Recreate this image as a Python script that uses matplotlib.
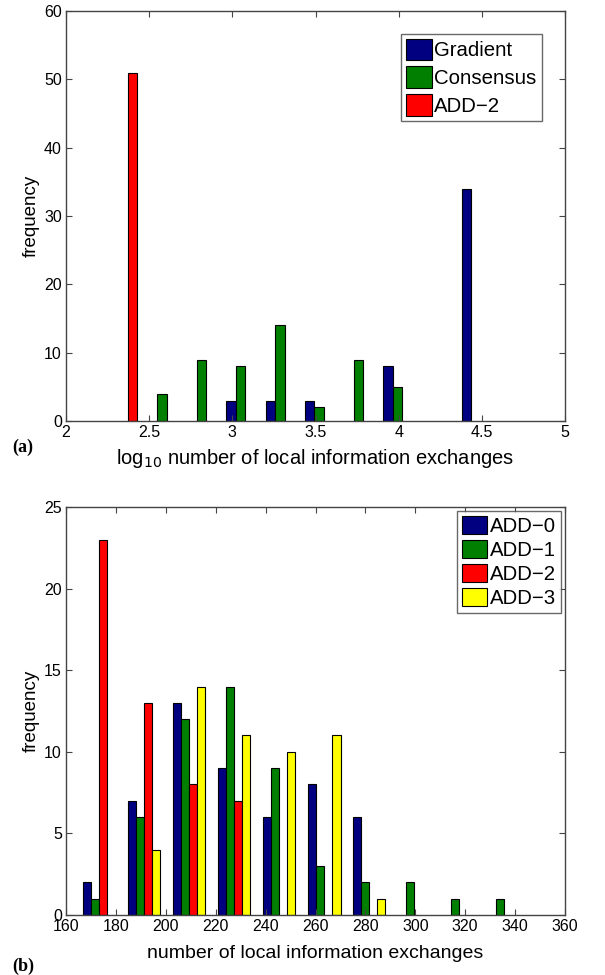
import numpy as np
import matplotlib
matplotlib.use("Agg")
import matplotlib.pyplot as plt

plt.rcParams['font.family'] = ['Liberation Sans', 'DejaVu Sans']

# (a) log10 number of local information exchanges, bin centres and counts
bins_a = [2.342, 2.578, 2.814, 3.05, 3.286, 3.522, 3.758, 3.994, 4.23, 4.466]
gradient = [0, 0, 0, 3, 3, 3, 0, 8, 0, 34]
consensus = [0, 4, 9, 8, 14, 2, 9, 5, 0, 0]
add2_a = [51, 0, 0, 0, 0, 0, 0, 0, 0, 0]
labels_a = ["Gradient", "Consensus", "ADD\u22122"]

# (b) number of local information exchanges
bins_b = [173.2, 191.3, 209.3, 227.4, 245.4, 263.5, 281.5, 299.6, 317.6, 335.7]
add0 = [2, 7, 13, 9, 6, 8, 6, 0, 0, 0]
add1 = [1, 6, 12, 14, 9, 3, 2, 2, 1, 1]
add2_b = [23, 13, 8, 7, 0, 0, 0, 0, 0, 0]
add3 = [0, 4, 14, 11, 10, 11, 1, 0, 0, 0]
labels_b = ["ADD\u22120", "ADD\u22121", "ADD\u22122", "ADD\u22123"]

colors = ["#000080", "#007f00", "#ff0000", "#ffff00"]


def grouped(ax, centers, series, labels, w):
    n = len(series)
    centers = np.array(centers)
    for i, (vals, lab) in enumerate(zip(series, labels)):
        off = (i - (n - 1) / 2) * w
        vals = np.array(vals)
        mask = vals > 0
        ax.bar(centers[mask] + off, vals[mask], width=w, color=colors[i],
               edgecolor="black", linewidth=0.8, label=lab)


def style(ax):
    for s in ax.spines.values():
        s.set_color("#444444")
        s.set_linewidth(1.0)
    ax.tick_params(direction="in", top=True, right=True, labelsize=11.5,
                   length=4, color="#444444", pad=3)


def legend(ax, anchor, hh, ls):
    leg = ax.legend(loc="upper right", bbox_to_anchor=anchor, fontsize=14.7,
                    fancybox=False, edgecolor="#444444", handlelength=1.25,
                    handleheight=hh, handletextpad=0.12, labelspacing=ls,
                    borderpad=0.25, borderaxespad=0)
    leg.get_frame().set_linewidth(1.0)
    return leg


fig = plt.figure(figsize=(6.05, 9.75), dpi=100)

ax1 = fig.add_axes([66 / 605, 1 - 421 / 975, 499 / 605, 410 / 975])
grouped(ax1, bins_a, [gradient, consensus, add2_a], labels_a, 0.057)
ax1.set_xlim(2, 5)
ax1.set_ylim(0, 60)
ax1.set_xticks([2, 2.5, 3, 3.5, 4, 4.5, 5])
ax1.set_xticklabels(["2", "2.5", "3", "3.5", "4", "4.5", "5"])
ax1.set_yticks(range(0, 61, 10))
ax1.set_xlabel("log$_{10}$ number of local information exchanges", fontsize=14.5, labelpad=5)
ax1.set_ylabel("frequency", fontsize=13.5, labelpad=3)
style(ax1)
legend(ax1, (0.953, 0.945), 1.25, 0.3)

ax2 = fig.add_axes([66 / 605, 1 - 915 / 975, 499 / 605, 408 / 975])
grouped(ax2, bins_b, [add0, add1, add2_b, add3], labels_b, 3.27)
ax2.set_xlim(160, 360)
ax2.set_ylim(0, 25)
ax2.set_xticks(range(160, 361, 20))
ax2.set_yticks(range(0, 26, 5))
ax2.set_xlabel("number of local information exchanges", fontsize=14, labelpad=8)
ax2.set_ylabel("frequency", fontsize=13.5, labelpad=3)
style(ax2)
legend(ax2, (0.992, 0.99), 0.95, 0.2)

fig.text(12 / 605, 1 - 447 / 975, "(a)", fontsize=13, fontweight="bold",
         family="Liberation Serif", va="center")
fig.text(12 / 605, 1 - 966 / 975, "(b)", fontsize=13, fontweight="bold",
         family="Liberation Serif", va="center")

fig.savefig("out.png", dpi=100)
